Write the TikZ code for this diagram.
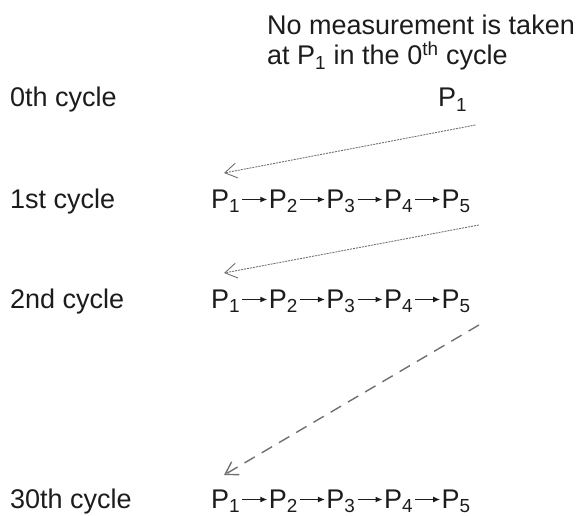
\documentclass[tikz,border=0pt]{standalone}
\usepackage{fontspec}
\setmainfont{Liberation Sans}
\usetikzlibrary{positioning,arrows.meta,calc}
\definecolor{InkGray}{RGB}{28,28,28}
\definecolor{LinkGray}{RGB}{112,112,112}
\newcommand{\Pn}[1]{P\textsubscript{#1}}
\newcommand{\nxt}{\kern1.5pt\tikz[baseline=-8.5pt]\draw[draw=InkGray,
  line width=1.1pt,-{Latex[length=7pt,width=6pt]}] (0pt,0pt) -- (25pt,0pt);\kern1pt}
\newcommand{\pchain}{\Pn{1}\nxt\Pn{2}\nxt\Pn{3}\nxt\Pn{4}\nxt\Pn{5}}
\tikzset{
  txt/.style={anchor=base west,inner sep=0pt,text=InkGray,
    font=\fontsize{27}{30}\selectfont},
  jump/.style={-{Straight Barb[length=12pt,width=15pt]},draw=LinkGray,
    line width=0.9pt,dash pattern=on 2pt off 1pt},
  longjump/.style={-{Straight Barb[length=12pt,width=15pt]},draw=LinkGray,
    line width=1.4pt,dash pattern=on 12pt off 8pt}
}

\begin{document}
\begin{tikzpicture}[x=1pt,y=-1pt]
  \useasboundingbox (0,0) rectangle (587,516);
  % cycle labels
  \node[txt] (c0) at (10,107) {0th cycle};
  \node[txt] (c1) at (10,208) {1st cycle};
  \node[txt] (c2) at (10,308) {2nd cycle};
  \node[txt] (c30) at (10,508) {30th cycle};
  % note and measuring points
  \node[txt,anchor=north west,align=left] (note) at (267,15)
    {No measurement is taken\\at \Pn{1} in the 0\textsuperscript{th} cycle};
  \node[txt] (p0) at (438,107) {\Pn{1}};
  \node[txt] (r1) at (211,208) {\pchain};
  \node[txt] (r2) at (211,308) {\pchain};
  \node[txt] (r30) at (211,508) {\pchain};
  % jumps between cycles
  \coordinate (s1) at ($(p0.base east)+(8,18)$);
  \coordinate (t1) at ($(r1.base west)+(13,-35)$);
  \coordinate (s2) at ($(r1.base east)+(8,17)$);
  \coordinate (t2) at ($(r2.base west)+(13,-35)$);
  \coordinate (s3) at ($(r2.base east)+(8,17)$);
  \coordinate (t3) at ($(r30.base west)+(13,-33)$);
  \draw[jump] (s1) -- (t1);
  \draw[jump] (s2) -- (t2);
  \draw[longjump] (s3) -- (t3);
\end{tikzpicture}
\end{document}
